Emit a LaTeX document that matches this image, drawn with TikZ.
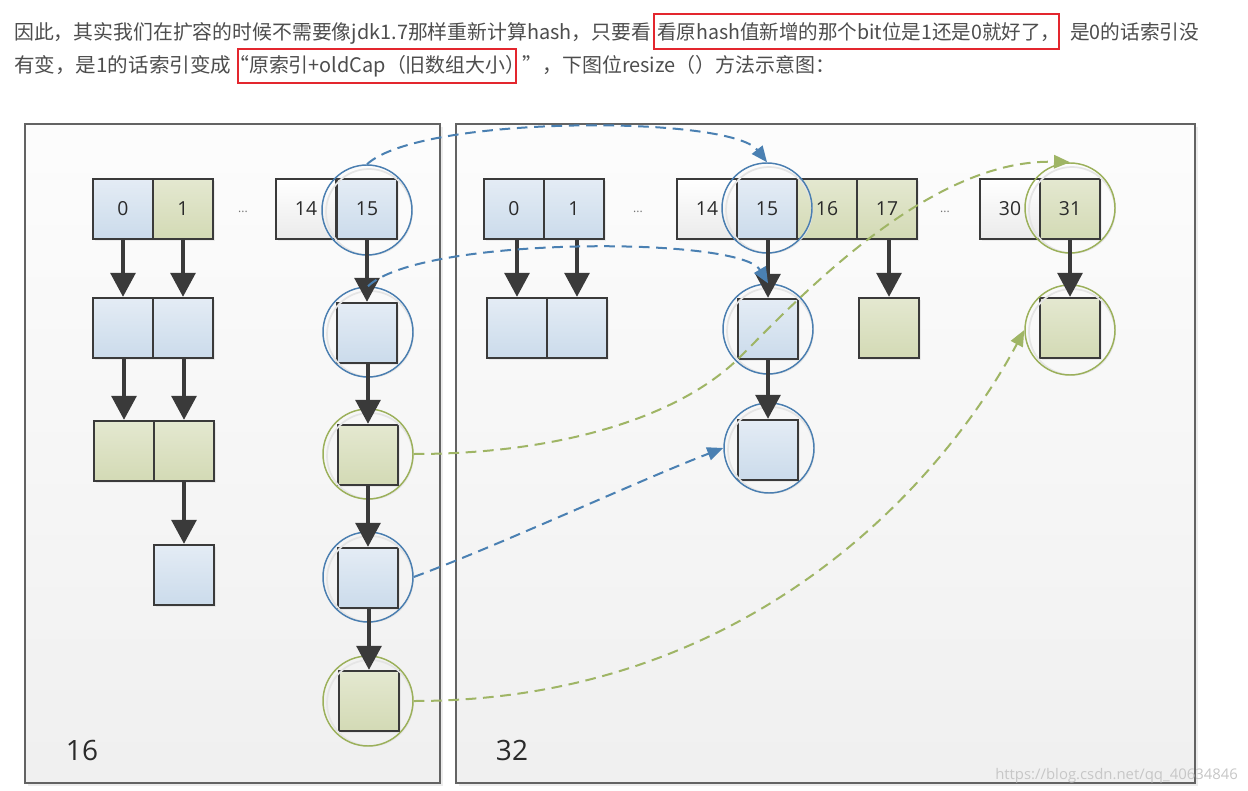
\documentclass[tikz,border=0pt]{standalone}
\usepackage{fontspec}
\newfontfamily\cjk{Noto Sans CJK SC}
\newfontfamily\lab{Open Sans}
\usetikzlibrary{arrows.meta,shadows,calc}
\definecolor{blueT}{HTML}{E4ECF5}
\definecolor{blueB}{HTML}{CBDBEB}
\definecolor{greenT}{HTML}{E4E8D0}
\definecolor{greenB}{HTML}{D3DAB5}
\definecolor{boxline}{HTML}{3A3A3A}
\definecolor{ringblue}{HTML}{4A7EB0}
\definecolor{ringgreen}{HTML}{9BB05A}
\definecolor{dashblue}{HTML}{4A80B2}
\definecolor{dashgreen}{HTML}{9FB565}
\definecolor{arrowdark}{HTML}{3A3A3A}
\definecolor{panelline}{HTML}{636363}
\definecolor{redline}{HTML}{E3262E}
\definecolor{txtgray}{HTML}{4D4D4D}
\definecolor{labgray}{HTML}{2A2A2A}
\newsavebox\fitbox
\newcommand\fitto[2]{\sbox\fitbox{#2}\edef\fitfac{\fpeval{(#1)/(\the\wd\fitbox)}}\scalebox{\fitfac}[1]{\usebox\fitbox}}
\tikzset{
  panel/.style={draw=panelline, line width=1.6pt, top color=white!99!black, bottom color=black!6,
    minimum height=494.25pt, inner sep=0pt,
    drop shadow={shadow xshift=2pt, shadow yshift=-2pt, opacity=0.15}},
  cell/.style={draw=boxline, line width=1.7pt, minimum width=45pt, minimum height=45pt, inner sep=0pt,
    font=\lab\fontsize{14.5pt}{16pt}\selectfont, text=labgray,
    drop shadow={shadow xshift=1.5pt, shadow yshift=-1.5pt, opacity=0.12}},
  bluecell/.style={cell, top color=blueT, bottom color=blueB},
  greencell/.style={cell, top color=greenT, bottom color=greenB},
  whitecell/.style={cell, top color=white, bottom color=black!8},
  ring/.style={circle, line width=1.1pt, minimum size=67.5pt, inner sep=0pt},
  bluering/.style={ring, draw=ringblue},
  greenring/.style={ring, draw=ringgreen},
  ghost/.style={draw=black!10, line width=1.3pt},
  link/.style={draw=arrowdark, line width=3pt, -{Triangle[width=18.5pt,length=18pt]}},
  bluedash/.style={draw=dashblue, line width=1.5pt, dash pattern=on 8pt off 5pt, -{Triangle[width=10pt,length=12pt]}},
  greendash/.style={draw=dashgreen, line width=1.5pt, dash pattern=on 8pt off 5pt, -{Triangle[width=10pt,length=12pt]}},
  dots/.style={font=\lab\fontsize{9pt}{10pt}\selectfont, text=black!55},
  biglab/.style={font=\lab\fontsize{21pt}{24pt}\selectfont, text=labgray},
  para/.style={font=\cjk\fontsize{15pt}{18pt}\selectfont, text=txtgray, inner sep=0pt, anchor=base west},
  redbox/.style={draw=redline, line width=1.5pt}
}
\begin{document}
\begin{tikzpicture}[x=0.75pt,y=-0.75pt]
\useasboundingbox[fill=white] (0,0) rectangle (1248,791);

% --- paragraph text
\node[para] (ta) at (14,40) {\fitto{477.75pt}{因此，其实我们在扩容的时候不需要像jdk1.7那样重新计算hash，只要看}};
\node[para] (tb) at (657,40) {\fitto{302.25pt}{看原hash值新增的那个bit位是1还是0就好了，}};
\node[para] (tc) at (1070,40) {\fitto{96.75pt}{是0的话索引没}};
\node[para] (td) at (14,73) {\fitto{162.75pt}{有变，是1的话索引变成}};
\node[para] (te) at (229,73) {\fitto{222pt}{“原索引+oldCap（旧数组大小）}};
\node[para] (tf) at (522,73) {\fitto{234.75pt}{”，下图位resize（）方法示意图：}};
\draw[redbox] (654,14) rectangle (1059,49);
\draw[redbox] (238,49) rectangle (516,83);

% --- panels
\node[panel, minimum width=311.25pt] (pl) at (232.5,453.5) {};
\node[panel, minimum width=554.25pt] (pr) at (825.5,453.5) {};
\node[biglab] (n16) at (82,750) {16};
\node[biglab] (n32) at (512,750) {32};

% --- left table
\node[bluecell] (L0) at (123,209) {0};
\node[greencell] (L1) at (183,209) {1};
\node[dots] (ld) at (243,212) {...};
\node[whitecell] (L14) at (306,209) {14};
\node[bluecell] (L15) at (367,209) {15};
\node[bluecell] (La) at (123,328) {};
\node[bluecell] (Lb) at (183,328) {};
\node[greencell] (Lc) at (124,451) {};
\node[greencell] (Ld) at (184,451) {};
\node[bluecell] (Le) at (184,575) {};
\node[bluecell] (Lq1) at (367,333) {};
\node[greencell] (Lq2) at (368,455) {};
\node[bluecell] (Lq3) at (368,578) {};
\node[greencell] (Lq4) at (369,701) {};

% --- right table
\node[bluecell] (R0) at (514,209) {0};
\node[bluecell] (R1) at (574,209) {1};
\node[dots] (rd1) at (638,212) {...};
\node[whitecell] (R14) at (707,209) {14};
\node[bluecell] (R15) at (767,209) {15};
\node[greencell] (R16) at (827,209) {16};
\node[greencell] (R17) at (887,209) {17};
\node[dots] (rd2) at (945,212) {...};
\node[whitecell] (R30) at (1010,209) {30};
\node[greencell] (R31) at (1070,209) {31};
\node[bluecell] (Ra) at (517,328) {};
\node[bluecell] (Rb) at (577,328) {};
\node[bluecell] (Rq1) at (768,329) {};
\node[greencell] (Rg) at (889,328) {};
\node[greencell] (Rs) at (1070,328) {};
\node[bluecell] (Rq2) at (768,450) {};

% --- ghost rings
\foreach \px/\py in {367/210,368/332,368/454,368/577,368/701,767/208,768/329,769/448,1070/208,1070/330}
  \draw[ghost] (\px+2,\py+2) circle[radius=43];

% --- rings
\node[bluering] (L15c) at (367,210) {};
\node[bluering] (Lq1c) at (368,332) {};
\node[greenring] (Lq2c) at (368,454) {};
\node[bluering] (Lq3c) at (368,577) {};
\node[greenring] (Lq4c) at (368,701) {};
\node[bluering] (R15c) at (767,208) {};
\node[bluering] (Rq1c) at (768,329) {};
\node[bluering] (Rq2c) at (769,448) {};
\node[greenring] (R31c) at (1070,208) {};
\node[greenring] (Rsc) at (1070,330) {};

% --- chain arrows
\draw[link] (L0.south -| La) -- (La.north);
\draw[link] (L1.south -| Lb) -- (Lb.north);
\draw[link] (La.south -| Lc) -- (Lc.north);
\draw[link] (Lb.south -| Ld) -- (Ld.north);
\draw[link] (Ld.south -| Le) -- (Le.north);
\draw[link] (L15.south -| Lq1) -- (Lq1.north);
\draw[link] (Lq1.south -| Lq2) -- (Lq2.north);
\draw[link] (Lq2.south -| Lq3) -- (Lq3.north);
\draw[link] (Lq3.south -| Lq4) -- (Lq4.north);
\draw[link] (R0.south -| Ra) -- (Ra.north);
\draw[link] (R1.south -| Rb) -- (Rb.north);
\draw[link] (R15.south -| Rq1) -- (Rq1.north);
\draw[link] (Rq1.south -| Rq2) -- (Rq2.north);
\draw[link] (R17.south -| Rg) -- (Rg.north);
\draw[link] (R31.south -| Rs) -- (Rs.north);

% --- dashed moves
\draw[bluedash] (L15c.north) .. controls (420,115) and (730,115) .. (R15c.north);
\draw[bluedash] (Lq1c.north) .. controls (420,236) and (740,236) .. (Rq1c.north);
\draw[greendash] (Lq2c.east) .. controls (560,454) and (680,417) .. (740,357)
   .. controls (800,297) and (930,158) .. (R31c.north);
\draw[bluedash] (Lq3c.east) .. controls (500,545) and (640,480) .. (Rq2c.west);
\draw[greendash] (Lq4c.east) .. controls (760,701) and (950,470) .. (Rsc.west);

% --- watermark
\node[font=\lab\fontsize{11pt}{12pt}\selectfont, text=white!78!black, inner sep=0pt, anchor=base west] (wm) at (995,779) {\fitto{182pt}{https://blog.csdn.net/qq\_40634846}};
\end{tikzpicture}
\end{document}
